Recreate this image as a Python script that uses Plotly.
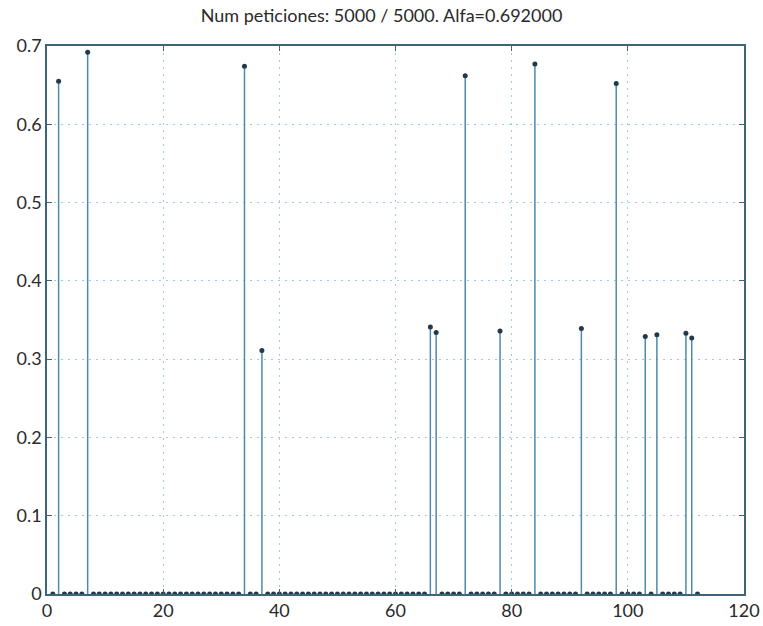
import plotly.graph_objects as go

# Data: stem plot, x = 1..112, nonzero values at selected positions
n_points = 112
nz_x = [2, 7, 34, 37, 66, 67, 72, 78, 84, 92, 98, 103, 105, 110, 111]
nz_y = [0.655, 0.692, 0.674, 0.311, 0.341, 0.334, 0.662, 0.336, 0.677, 0.339, 0.652, 0.329, 0.331, 0.333, 0.327]

x_vals = list(range(1, n_points + 1))
lookup = dict(zip(nz_x, nz_y))
y_vals = [lookup.get(x, 0.0) for x in x_vals]

title_text = "Num peticiones: 5000 / 5000. Alfa=0.692000"
x_ticks = [0, 20, 40, 60, 80, 100, 120]
y_ticks = [0, 0.1, 0.2, 0.3, 0.4, 0.5, 0.6, 0.7]
y_ticklabels = ["0", "0.1", "0.2", "0.3", "0.4", "0.5", "0.6", "0.7"]

stem_x, stem_y = [], []
for x, y in zip(x_vals, y_vals):
    stem_x += [x, x, None]
    stem_y += [0, y, None]

stem_color = "#4f8aa8"
axis_color = "#3d6478"
grid_color = "#9fcbe4"
font_family = "Lato"
grid_dash = "2px,5px"

fig = go.Figure()
fig.add_trace(go.Scatter(x=stem_x, y=stem_y, mode="lines",
                         line=dict(color=stem_color, width=1.5),
                         hoverinfo="skip", showlegend=False))
fig.add_trace(go.Scatter(x=x_vals, y=y_vals, mode="markers",
                         marker=dict(color="#1f3a4a", size=5),
                         showlegend=False))

fig.update_layout(
    width=763, height=626,
    margin=dict(l=47, r=19, t=46, b=32),
    paper_bgcolor="white", plot_bgcolor="white",
    title=dict(text=title_text, x=0.5, xanchor="center", y=0.975, yanchor="middle",
               font=dict(family=font_family, size=18, color="#2a2a2a")),
    font=dict(family=font_family, color="#2a2a2a"),
)
fig.update_xaxes(range=[0, 120], tickvals=x_ticks, ticks="inside", ticklen=5,
                 tickcolor=axis_color, showline=True, linecolor=axis_color, linewidth=1.5,
                 mirror="ticks", showgrid=True, gridcolor=grid_color, griddash=grid_dash,
                 gridwidth=1, zeroline=False, tickfont=dict(size=18), automargin=False)
fig.update_yaxes(range=[0, 0.7], tickvals=y_ticks, ticktext=y_ticklabels, ticks="inside",
                 ticklen=5, tickcolor=axis_color, showline=True, linecolor=axis_color,
                 linewidth=1.5, mirror="ticks", showgrid=True, gridcolor=grid_color,
                 griddash=grid_dash, gridwidth=1, zeroline=False, tickfont=dict(size=18),
                 automargin=False)

fig.write_html("out.html", config={"displayModeBar": False},
               post_script="document.body.style.margin='0';document.body.style.overflow='hidden';")
